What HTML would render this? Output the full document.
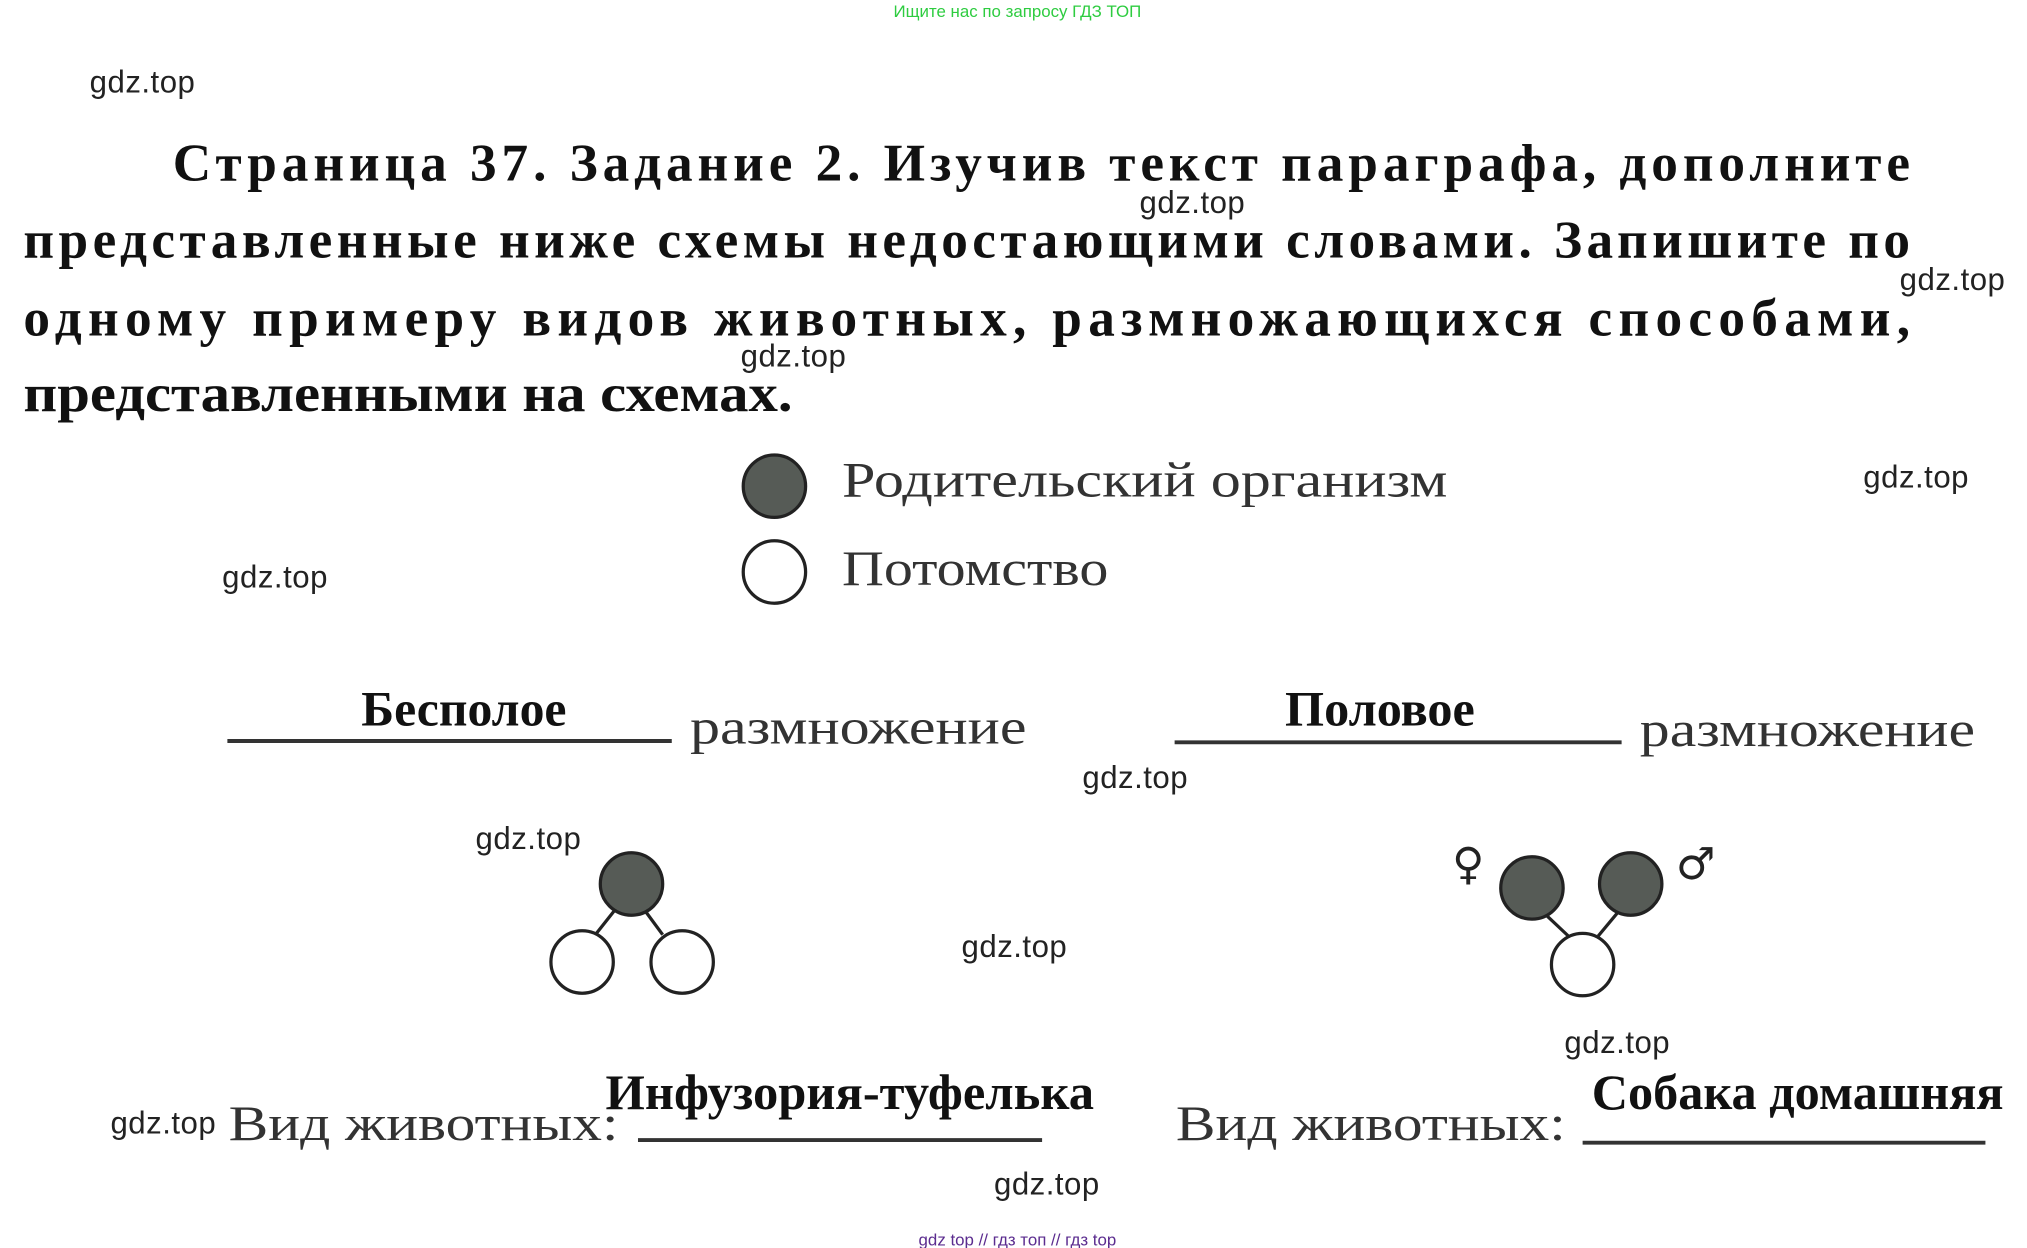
<!DOCTYPE html>
<html><head><meta charset="utf-8"><style>
html,body{margin:0;padding:0;background:#fff;width:2027px;height:1248px;overflow:hidden}
svg{display:block}
.w{font-family:"Liberation Sans",sans-serif;font-size:24px;fill:#222}
.t{font-family:"Liberation Serif",serif;font-weight:bold;font-size:41px;fill:#111}
.s{font-family:"Liberation Serif",serif;font-size:38px;fill:#333}
.b{font-family:"Liberation Serif",serif;font-weight:bold;font-size:38px;fill:#111}
</style></head><body>
<svg width="2027" height="1248" viewBox="0 0 1560 960" preserveAspectRatio="none" xmlns="http://www.w3.org/2000/svg">
<text x="783" y="13" text-anchor="middle" font-family="Liberation Sans,sans-serif" font-size="13" fill="#2ecc40">Ищите нас по запросу ГДЗ ТОП</text>
<g class="w">
<text x="69" y="71" textLength="81">gdz.top</text>
<text x="877" y="164" textLength="81">gdz.top</text>
<text x="1462" y="223" textLength="81">gdz.top</text>
<text x="570" y="282" textLength="81">gdz.top</text>
<text x="1434" y="375" textLength="81">gdz.top</text>
<text x="171" y="452" textLength="81">gdz.top</text>
<text x="833" y="606" textLength="81">gdz.top</text>
<text x="366" y="653" textLength="81">gdz.top</text>
<text x="740" y="736" textLength="81">gdz.top</text>
<text x="1204" y="810" textLength="81">gdz.top</text>
<text x="85" y="872" textLength="81">gdz.top</text>
<text x="765" y="919" textLength="81">gdz.top</text>
</g>
<text class="t" x="133" y="139" textLength="1337" lengthAdjust="spacing">Страница 37. Задание 2. Изучив текст параграфа, дополните</text>
<text class="t" x="18" y="198" textLength="1452" lengthAdjust="spacing">представленные ниже схемы недостающими словами. Запишите по</text>
<text class="t" x="18" y="258" textLength="1452" lengthAdjust="spacing">одному примеру видов животных, размножающихся способами,</text>
<text class="t" x="18" y="316" textLength="592" lengthAdjust="spacingAndGlyphs">представленными на схемах.</text>
<circle cx="596" cy="374" r="24" fill="#565b56" stroke="#222" stroke-width="2.5"/>
<circle cx="596" cy="440" r="24" fill="#fff" stroke="#222" stroke-width="2.5"/>
<text class="s" x="648" y="382" textLength="466" lengthAdjust="spacingAndGlyphs">Родительский организм</text>
<text class="s" x="648" y="450" textLength="205" lengthAdjust="spacingAndGlyphs">Потомство</text>
<text class="b" x="278" y="558" textLength="158" lengthAdjust="spacingAndGlyphs">Бесполое</text>
<text class="b" x="989" y="558" textLength="146" lengthAdjust="spacingAndGlyphs">Половое</text>
<line x1="175" y1="570" x2="517" y2="570" stroke="#333" stroke-width="3"/>
<line x1="904" y1="571" x2="1248" y2="571" stroke="#333" stroke-width="3"/>
<text class="s" x="531" y="572" textLength="259" lengthAdjust="spacingAndGlyphs">размножение</text>
<text class="s" x="1262" y="574" textLength="258" lengthAdjust="spacingAndGlyphs">размножение</text>
<g stroke="#222" stroke-width="2.5">
<line x1="474" y1="699" x2="459" y2="718"/>
<line x1="496" y1="700" x2="510" y2="719"/>
<circle cx="486" cy="680" r="24" fill="#565b56"/>
<circle cx="448" cy="740" r="24" fill="#fff"/>
<circle cx="525" cy="740" r="24" fill="#fff"/>
<line x1="1190" y1="704" x2="1207" y2="720"/>
<line x1="1245" y1="702" x2="1230" y2="720"/>
<circle cx="1179" cy="683" r="24" fill="#565b56"/>
<circle cx="1255" cy="680" r="24" fill="#565b56"/>
<circle cx="1218" cy="742" r="24" fill="#fff"/>
</g>
<text x="1130" y="676" text-anchor="middle" font-family="DejaVu Sans,sans-serif" font-size="34" fill="#222">♀</text>
<text x="1305" y="676" text-anchor="middle" font-family="DejaVu Sans,sans-serif" font-size="34" fill="#222">♂</text>
<text class="s" x="176" y="877" textLength="300" lengthAdjust="spacingAndGlyphs">Вид животных:</text>
<text class="s" x="905" y="877" textLength="300" lengthAdjust="spacingAndGlyphs">Вид животных:</text>
<line x1="491" y1="877" x2="802" y2="877" stroke="#333" stroke-width="3"/>
<line x1="1218" y1="879" x2="1528" y2="879" stroke="#333" stroke-width="3"/>
<text class="b" x="466" y="853" textLength="376" lengthAdjust="spacingAndGlyphs">Инфузория-туфелька</text>
<text class="b" x="1225" y="853" textLength="317" lengthAdjust="spacingAndGlyphs">Собака домашняя</text>
<text x="783" y="958" text-anchor="middle" font-family="Liberation Sans,sans-serif" font-size="13" fill="#5b2c8f">gdz top  //  гдз топ  //  гдз top</text>
</svg>
</body></html>
